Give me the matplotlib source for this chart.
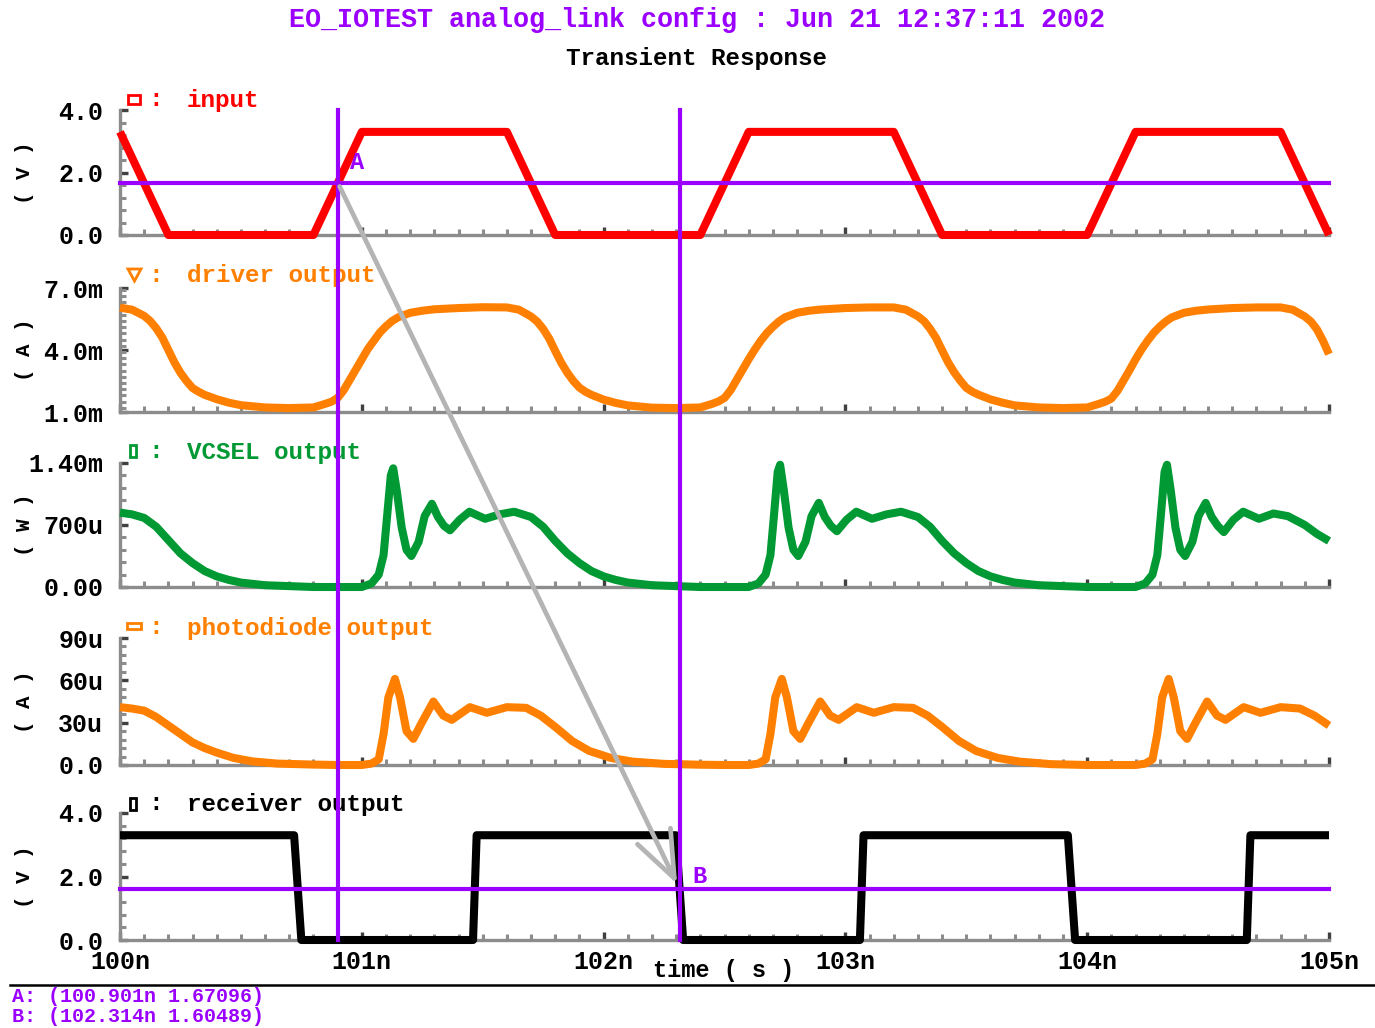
import numpy as np
import matplotlib
matplotlib.use("Agg")
from matplotlib import pyplot as plt
from matplotlib.patches import Rectangle, Polygon, ConnectionPatch
from matplotlib.lines import Line2D
from matplotlib.ticker import MultipleLocator, FixedLocator, NullFormatter

# ---- waveforms (time in ns) ----
input_t = [100.0, 100.2, 100.8, 101.0, 101.6, 101.8, 102.4, 102.6, 103.2, 103.4, 104.0, 104.2, 104.8, 105.0]
input_v = [3.3, 0.0, 0.0, 3.3, 3.3, 0.0, 0.0, 3.3, 3.3, 0.0, 0.0, 3.3, 3.3, 0.0]

# driver output current (mA)
driver_t = [100.00, 100.05, 100.10, 100.125, 100.15, 100.175, 100.20, 100.225, 100.25, 100.275, 100.30, 100.325,
            100.35, 100.40, 100.45, 100.50, 100.60, 100.70, 100.80, 100.85, 100.875, 100.90, 100.925, 100.95,
            100.975, 101.00, 101.025, 101.05, 101.075, 101.10, 101.125, 101.15, 101.20, 101.25, 101.30, 101.40,
            101.50,
            101.60, 101.65, 101.70, 101.725, 101.75, 101.775, 101.80, 101.825, 101.85, 101.875, 101.90, 101.925,
            101.95, 102.00, 102.05, 102.10, 102.20, 102.30, 102.40, 102.45, 102.475, 102.50, 102.525, 102.55,
            102.575, 102.60, 102.625, 102.65, 102.675, 102.70, 102.725, 102.75, 102.80, 102.85, 102.90, 103.00,
            103.10,
            103.20, 103.25, 103.30, 103.325, 103.35, 103.375, 103.40, 103.425, 103.45, 103.475, 103.50, 103.525,
            103.55, 103.60, 103.65, 103.70, 103.80, 103.90, 104.00, 104.05, 104.075, 104.10, 104.125, 104.15,
            104.175, 104.20, 104.225, 104.25, 104.275, 104.30, 104.325, 104.35, 104.40, 104.45, 104.50, 104.60,
            104.70,
            104.80, 104.85, 104.90, 104.925, 104.95, 104.975, 105.00]
driver_ma = [6.05, 5.95, 5.65, 5.40, 5.05, 4.60, 4.00, 3.40, 2.90, 2.50, 2.16, 1.98,
             1.83, 1.62, 1.45, 1.33, 1.22, 1.19, 1.22, 1.40, 1.50, 1.68, 2.05, 2.55,
             3.05, 3.55, 4.05, 4.45, 4.85, 5.15, 5.40, 5.58, 5.80, 5.90, 5.97, 6.03,
             6.07,
             6.06, 5.95, 5.62, 5.38, 5.02, 4.55, 3.95, 3.38, 2.90, 2.50, 2.18, 1.98,
             1.83, 1.60, 1.44, 1.32, 1.21, 1.19, 1.22, 1.40, 1.51, 1.68, 2.05, 2.55,
             3.05, 3.55, 4.02, 4.45, 4.82, 5.12, 5.38, 5.58, 5.80, 5.90, 5.96, 6.03,
             6.06,
             6.06, 5.95, 5.63, 5.40, 5.03, 4.58, 3.98, 3.40, 2.92, 2.52, 2.17, 1.98,
             1.84, 1.61, 1.45, 1.32, 1.22, 1.19, 1.22, 1.40, 1.50, 1.65, 2.02, 2.52,
             3.02, 3.55, 4.03, 4.45, 4.83, 5.13, 5.38, 5.58, 5.80, 5.90, 5.96, 6.03,
             6.06,
             6.06, 5.95, 5.62, 5.38, 5.00, 4.45, 3.80]

# VCSEL optical output (mW)
vcsel_t = [100.00, 100.05, 100.10, 100.15, 100.20, 100.25, 100.30, 100.35, 100.40, 100.45, 100.50, 100.60,
           100.70, 100.80, 100.90, 101.00, 101.04, 101.07, 101.09, 101.105, 101.12, 101.13, 101.145, 101.165,
           101.185, 101.205, 101.235, 101.26, 101.29, 101.315, 101.34, 101.365, 101.405, 101.445, 101.51, 101.57,
           101.63, 101.70, 101.75, 101.80, 101.85, 101.90, 101.95, 102.00, 102.05, 102.10, 102.20, 102.30,
           102.40, 102.50, 102.60, 102.64, 102.67, 102.69, 102.705, 102.72, 102.73, 102.745, 102.765, 102.785,
           102.805, 102.835, 102.86, 102.89, 102.915, 102.94, 102.965, 103.005, 103.045, 103.11, 103.17, 103.23,
           103.30, 103.35, 103.40, 103.45, 103.50, 103.55, 103.60, 103.65, 103.70, 103.80, 103.90, 104.00,
           104.10, 104.20, 104.24, 104.27, 104.29, 104.305, 104.32, 104.33, 104.345, 104.365, 104.385, 104.405,
           104.435, 104.46, 104.49, 104.515, 104.54, 104.565, 104.605, 104.645, 104.71, 104.77, 104.83, 104.90,
           104.95, 105.00]
vcsel_mw = [0.84, 0.82, 0.78, 0.68, 0.53, 0.38, 0.27, 0.18, 0.12, 0.08, 0.05, 0.02,
            0.01, 0.00, 0.00, 0.00, 0.04, 0.14, 0.36, 0.81, 1.26, 1.34, 1.08, 0.67,
            0.42, 0.35, 0.51, 0.80, 0.94, 0.79, 0.69, 0.64, 0.76, 0.85, 0.77, 0.82,
            0.85, 0.79, 0.68, 0.52, 0.38, 0.27, 0.18, 0.12, 0.08, 0.05, 0.02, 0.01,
            0.00, 0.00, 0.00, 0.04, 0.14, 0.36, 0.82, 1.30, 1.38, 1.10, 0.67, 0.42,
            0.35, 0.51, 0.80, 0.95, 0.79, 0.69, 0.63, 0.76, 0.85, 0.77, 0.82, 0.85,
            0.79, 0.68, 0.52, 0.38, 0.27, 0.18, 0.12, 0.08, 0.05, 0.02, 0.01, 0.00,
            0.00, 0.00, 0.04, 0.14, 0.36, 0.82, 1.30, 1.38, 1.10, 0.67, 0.42, 0.35,
            0.51, 0.80, 0.95, 0.79, 0.69, 0.62, 0.76, 0.85, 0.77, 0.83, 0.80, 0.70,
            0.60, 0.52]

# photodiode output current (uA)
pd_t = [100.00, 100.05, 100.10, 100.15, 100.20, 100.25, 100.30, 100.35, 100.40, 100.47, 100.55, 100.65,
        100.80, 100.90, 101.00, 101.04, 101.07, 101.09, 101.11, 101.137, 101.158, 101.185, 101.213, 101.248,
        101.296, 101.337, 101.372, 101.447, 101.517, 101.60, 101.68, 101.74, 101.80, 101.87, 101.94, 102.03,
        102.12, 102.25, 102.40, 102.50, 102.60, 102.64, 102.67, 102.69, 102.71, 102.737, 102.758, 102.785,
        102.813, 102.848, 102.896, 102.937, 102.972, 103.047, 103.117, 103.20, 103.28, 103.34, 103.40, 103.47,
        103.54, 103.63, 103.72, 103.85, 104.00, 104.10, 104.20, 104.24, 104.27, 104.29, 104.31, 104.337,
        104.358, 104.385, 104.413, 104.448, 104.496, 104.537, 104.572, 104.647, 104.717, 104.80, 104.88, 104.94,
        105.00]
pd_ua = [41.0, 40.0, 38.5, 34.0, 28.0, 22.0, 16.0, 12.0, 8.8, 5.0, 2.5, 1.0,
         0.3, 0.0, 0.0, 1.0, 4.0, 22.0, 48.0, 61.0, 48.0, 24.0, 18.5, 30.0,
         45.0, 35.0, 32.0, 41.0, 37.0, 41.0, 40.5, 35.0, 27.0, 17.0, 10.0, 5.0,
         2.4, 0.8, 0.2, 0.0, 0.0, 1.0, 4.0, 22.0, 48.0, 61.0, 48.0, 24.0,
         18.5, 30.0, 45.0, 35.0, 32.0, 41.0, 37.0, 41.0, 40.5, 35.0, 27.0, 17.0,
         10.0, 5.0, 2.4, 0.6, 0.0, 0.0, 0.0, 1.0, 4.0, 22.0, 48.0, 61.0,
         48.0, 24.0, 18.5, 30.0, 45.0, 35.0, 32.0, 41.0, 37.0, 41.0, 40.0, 35.0,
         28.0]

# receiver output (V)
recv_t = [100.0, 100.72, 100.75, 101.46, 101.475, 102.299, 102.329, 103.06, 103.075, 103.92, 103.95,
          104.66, 104.675, 105.0]
recv_v = [3.3, 3.3, 0.0, 0.0, 3.3, 3.3, 0.0, 0.0, 3.3, 3.3, 0.0, 0.0, 3.3, 3.3]

# cursors
cursor_a = (100.901, 1.67096)
cursor_b = (102.314, 1.60489)

# ---- figure ----
W, H = 1375, 1028
fig = plt.figure(figsize=(W / 100, H / 100), dpi=100)
fig.patch.set_facecolor("white")

MONO = "Liberation Mono"
PURPLE = "#9b00ff"
AXGRAY = "#8c8c8c"
RED, ORANGE, GREEN = "#ff0000", "#ff8000", "#009933"


def fx(x):
    return x / W


def fy(y):
    return 1 - y / H


x_left, x_right = 120, 1329
panels = [(110, 235), (288, 412), (463, 587), (638, 765), (813, 940)]

ylims = [(0, 4), (1, 7), (0, 1.4), (0, 90), (0, 4)]
yticks = [[0, 2, 4], [1, 4, 7], [0, 0.7, 1.4], [0, 30, 60, 90], [0, 2, 4]]
yticklabels = [["0.0", "2.0", "4.0"], ["1.0m", "4.0m", "7.0m"], ["0.00", "700u", "1.40m"],
               ["0.0", "30u", "60u", "90u"], ["0.0", "2.0", "4.0"]]
yminor = [0.4, 0.3, 0.14, 6, 0.4]
units = ["( V )", "( A )", "( W )", "( A )", "( V )"]
series = [(input_t, input_v, RED), (driver_t, driver_ma, ORANGE), (vcsel_t, vcsel_mw, GREEN),
          (pd_t, pd_ua, ORANGE), (recv_t, recv_v, "black")]

axes = []
for i, (top, bot) in enumerate(panels):
    ax = fig.add_axes([fx(x_left), fy(bot), (x_right - x_left) / W, (bot - top) / H])
    ax.set_facecolor("none")
    ax.set_xlim(100, 105)
    ax.set_ylim(*ylims[i])
    for s in ["top", "right"]:
        ax.spines[s].set_visible(False)
    for s in ["left", "bottom"]:
        ax.spines[s].set_color(AXGRAY)
        ax.spines[s].set_linewidth(2.4)
    ax.xaxis.set_major_locator(MultipleLocator(1))
    ax.xaxis.set_minor_locator(MultipleLocator(0.1))
    ax.yaxis.set_major_locator(FixedLocator(yticks[i]))
    ax.yaxis.set_minor_locator(MultipleLocator(yminor[i]))
    ax.set_yticklabels(yticklabels[i])
    ax.tick_params(axis="both", which="major", direction="in", length=6, width=2.4, color="#404040")
    ax.tick_params(axis="both", which="minor", direction="in", length=4, width=2.2, color=AXGRAY)
    ax.tick_params(axis="y", which="major", pad=12)
    for lab in ax.get_yticklabels():
        lab.set_fontfamily(MONO)
        lab.set_fontweight("bold")
        lab.set_fontsize(18)
    if i < 4:
        ax.xaxis.set_major_formatter(NullFormatter())
    else:
        ax.set_xticks([100, 101, 102, 103, 104, 105])
        ax.set_xticklabels(["100n", "101n", "102n", "103n", "104n", "105n"])
        ax.tick_params(axis="x", which="major", pad=7)
        for lab in ax.get_xticklabels():
            lab.set_fontfamily(MONO)
            lab.set_fontweight("bold")
            lab.set_fontsize(18)
    t, v, c = series[i]
    ax.plot(t, v, color=c, lw=5.8, solid_joinstyle="round", solid_capstyle="butt", clip_on=False, zorder=3)
    fig.text(fx(25), fy((top + bot) / 2), units[i], rotation=90, ha="center", va="center",
             fontfamily=MONO, fontweight="bold", fontsize=15)
    axes.append(ax)

# legend entries above each panel
names = ["input", "driver output", "VCSEL output", "photodiode output", "receiver output"]
name_y = [100, 276, 452, 628, 804]
for i, nm in enumerate(names):
    c = series[i][2]
    fig.text(fx(187), fy(name_y[i]), nm, color=c, ha="left", va="center",
             fontfamily=MONO, fontweight="bold", fontsize=17.5)
    fig.text(fx(156), fy(name_y[i]), ":", color=c, ha="center", va="center",
             fontfamily=MONO, fontweight="bold", fontsize=17.5)

mk = dict(transform=fig.transFigure, fill=False, lw=2.0)
fig.add_artist(Rectangle((fx(128), fy(104)), 12 / W, 9 / H, ec=RED, **mk))
fig.add_artist(Polygon([(fx(128), fy(269)), (fx(141), fy(269)), (fx(134.5), fy(281))], closed=True,
                       ec=ORANGE, **mk))
fig.add_artist(Rectangle((fx(130), fy(457)), 6 / W, 12 / H, ec=GREEN, **mk))
fig.add_artist(Rectangle((fx(127), fy(629)), 14 / W, 6 / H, ec=ORANGE, **mk))
fig.add_artist(Rectangle((fx(130), fy(810)), 6 / W, 12 / H, ec="black", **mk))

# cursors
axes[0].axhline(cursor_a[1], color=PURPLE, lw=3.0, zorder=4, clip_on=False)
axes[4].axhline(cursor_b[1], color=PURPLE, lw=3.0, zorder=4, clip_on=False)
blend = matplotlib.transforms.blended_transform_factory(axes[4].transData, fig.transFigure)
for cx in (cursor_a[0], cursor_b[0]):
    fig.add_artist(Line2D([cx, cx], [fy(110), fy(940)], color=PURPLE, lw=3.0, transform=blend, zorder=5))
axes[0].annotate("A", cursor_a, xytext=(9, 6), textcoords="offset points", color=PURPLE,
                 fontfamily=MONO, fontweight="bold", fontsize=17, ha="left", va="bottom", zorder=6)
axes[4].annotate("B", cursor_b, xytext=(9, 1), textcoords="offset points", color=PURPLE,
                 fontfamily=MONO, fontweight="bold", fontsize=17, ha="left", va="bottom", zorder=6)

arrow = ConnectionPatch(xyA=cursor_a, coordsA=axes[0].transData, xyB=cursor_b, coordsB=axes[4].transData,
                        arrowstyle="->,head_length=1.4,head_width=0.55", mutation_scale=24,
                        color="#b4b4b4", lw=3.4, shrinkA=3, shrinkB=4, zorder=7)
fig.add_artist(arrow)

# titles
fig.text(fx(697), fy(20), "EO_IOTEST analog_link config : Jun 21 12:37:11 2002", color=PURPLE,
         ha="center", va="center", fontfamily=MONO, fontweight="bold", fontsize=19.3)
fig.text(fx(697), fy(58), "Transient Response", color="black",
         ha="center", va="center", fontfamily=MONO, fontweight="bold", fontsize=17.5)
fig.text(fx(724), fy(970), "time ( s )", color="black",
         ha="center", va="center", fontfamily=MONO, fontweight="bold", fontsize=17)

# cursor readout
fig.add_artist(Line2D([fx(10), fx(1375)], [fy(985), fy(985)], color="black", lw=1.8, transform=fig.transFigure))
fig.text(fx(12), fy(997), "A: (%.3fn %.5f)" % cursor_a, color=PURPLE, ha="left", va="center",
         fontfamily=MONO, fontweight="bold", fontsize=14.4)
fig.text(fx(12), fy(1016), "B: (%.3fn %.5f)" % cursor_b, color=PURPLE, ha="left", va="center",
         fontfamily=MONO, fontweight="bold", fontsize=14.4)

fig.savefig("out.png", dpi=100)
